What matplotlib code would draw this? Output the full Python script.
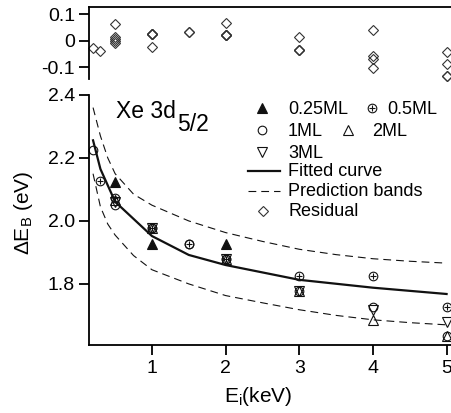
import numpy as np
import matplotlib
matplotlib.use("Agg")
import matplotlib.pyplot as plt

plt.rcParams.update({
    "font.family": ["Liberation Sans", "DejaVu Sans"],
    "mathtext.default": "regular",
    "axes.linewidth": 1.3,
    "xtick.major.width": 1.3,
    "ytick.major.width": 1.3,
    "xtick.major.size": 7,
    "ytick.major.size": 7,
    "xtick.labelsize": 14,
    "ytick.labelsize": 14,
})

# --- measured shifts (keV, eV) per coverage ---
e_025 = [0.5, 1, 2]
de_025 = [2.125, 1.926, 1.927]
e_05 = [0.3, 0.5, 1, 1.5, 2, 3, 4, 5]
de_05 = [2.127, 2.073, 1.977, 1.926, 1.880, 1.826, 1.826, 1.726]
e_1 = [0.2, 0.5, 1, 1.5, 2, 3, 4, 5]
de_1 = [2.226, 2.052, 1.977, 1.926, 1.880, 1.776, 1.728, 1.633]
e_2 = [0.5, 1, 2, 3, 4, 5]
de_2 = [2.066, 1.977, 1.880, 1.776, 1.684, 1.633]
e_3 = [0.5, 1, 2, 3, 4, 5]
de_3 = [2.060, 1.977, 1.880, 1.776, 1.718, 1.680]

# fitted curve, evaluated at the measured energies
fit_e = [0.2, 0.3, 0.5, 1, 1.5, 2, 3, 4, 5]
fit_de = [2.256, 2.165, 2.061, 1.952, 1.892, 1.860, 1.813, 1.788, 1.768]

# prediction bands
band_e = [0.2, 0.3, 0.4, 0.5, 0.75, 1, 1.5, 2, 2.5, 3, 3.5, 4, 4.5, 5]
band_hi = [2.360, 2.270, 2.200, 2.150, 2.085, 2.050, 2.000, 1.963, 1.935,
           1.910, 1.893, 1.880, 1.872, 1.866]
band_lo = [2.150, 2.045, 1.990, 1.955, 1.890, 1.845, 1.800, 1.763, 1.740,
           1.718, 1.700, 1.686, 1.677, 1.670]

W, H = 451, 413
fig = plt.figure(figsize=(W / 100, H / 100), dpi=100)


def fx(px):
    return px / W


def fy(py):
    return 1 - py / H


ax = fig.add_axes([fx(89), fy(345), fx(451 - 89), (345 - 95) / H])
axr = fig.add_axes([fx(89), fy(79), fx(451 - 89), (79 - 7) / H], sharex=ax)

k = "#111111"
ms_c = 6.2
ms_t = 6.8

# main panel
ax.plot(band_e, band_hi, color=k, lw=0.8, dashes=(7, 4.5))
ax.plot(band_e, band_lo, color=k, lw=0.8, dashes=(7, 4.5))
ax.plot(fit_e, fit_de, color=k, lw=1.6)

series = [
    (e_025, de_025, dict(marker="^", mfc=k, mec=k, ms=ms_t)),
    (e_05, de_05, dict(marker="o", mfc="none", mec=k, ms=ms_c)),
    (e_1, de_1, dict(marker="o", mfc="none", mec=k, ms=ms_c)),
    (e_2, de_2, dict(marker="^", mfc="none", mec=k, ms=ms_t)),
    (e_3, de_3, dict(marker="v", mfc="none", mec=k, ms=ms_t)),
]
for e, de, st in series:
    ax.plot(e, de, ls="none", mew=0.8, clip_on=False, **st)
# the plus inside the 0.5ML circles
ax.plot(e_05, de_05, ls="none", marker="+", color=k, ms=ms_c - 1.2, mew=0.8,
        clip_on=False)

ax.set_xlim(0.145, 5.06)
ax.set_ylim(1.606, 2.4)
ax.set_xticks([1, 2, 3, 4, 5])
ax.set_yticks([1.8, 2.0, 2.2, 2.4])
ax.set_yticklabels(["1.8", "2.0", "2.2", "2.4"])
ax.spines["top"].set_visible(False)
ax.spines["right"].set_visible(False)
ax.tick_params(axis="x", pad=4)
ax.tick_params(axis="y", pad=3)
ax.set_xlabel(r"$E_i$(keV)", fontsize=15)
ax.xaxis.set_label_coords(0.467, -0.16)
ax.set_ylabel(r"$\Delta E_B$ (eV)", fontsize=15)
ax.yaxis.set_label_coords(-0.15, 0.53)

# residual panel
for e, de, _ in series:
    res = np.array(de) - np.interp(e, fit_e, fit_de)
    axr.plot(e, res, ls="none", marker="D", mfc="none", mec="#333333",
             ms=4.6, mew=0.8, clip_on=False)
axr.set_ylim(-0.145, 0.1264)
axr.set_yticks([-0.1, 0, 0.1])
axr.set_yticklabels(["-0.1", "0", "0.1"])
axr.spines["bottom"].set_visible(False)
axr.spines["right"].set_visible(False)
axr.tick_params(axis="x", bottom=False, labelbottom=False)
axr.tick_params(axis="y", pad=3)

# panel label
fig.text(fx(115.5), fy(117.7), "Xe 3d", fontsize=16.5, va="baseline")
fig.text(fx(177), fy(131), "5/2", fontsize=16.5, va="baseline")

# key
tf = fig.transFigure


def key_marker(px, py, **kw):
    ax.plot([fx(px)], [fy(py)], transform=tf, clip_on=False, ls="none",
            mew=0.8, **kw)


def key_text(px, py, s):
    fig.text(fx(px), fy(py), s, fontsize=13, va="baseline")


key_marker(262, 108, marker="^", mfc=k, mec=k, ms=ms_t)
key_text(288, 113.5, "0.25ML")
key_marker(372, 108, marker="o", mfc="none", mec=k, ms=ms_c)
key_marker(372, 108, marker="+", color=k, ms=ms_c - 1.2)
key_text(387, 113.5, "0.5ML")
key_marker(262, 130, marker="o", mfc="none", mec=k, ms=ms_c)
key_text(288, 135.5, "1ML")
key_marker(348, 130, marker="^", mfc="none", mec=k, ms=ms_t)
key_text(372, 135.5, "2ML")
key_marker(262, 152, marker="v", mfc="none", mec=k, ms=ms_t)
key_text(288, 157.5, "3ML")
ax.plot([fx(248), fx(280)], [fy(171), fy(171)], transform=tf, clip_on=False,
        color=k, lw=1.6)
key_text(288, 176.5, "Fitted curve")
ax.plot([fx(248), fx(280)], [fy(191), fy(191)], transform=tf, clip_on=False,
        color=k, lw=0.8, dashes=(7, 4.5))
key_text(288, 196.5, "Prediction bands")
key_marker(263, 211, marker="D", mfc="none", mec="#333333", ms=4.6)
key_text(288, 216.5, "Residual")

fig.savefig("out.png", dpi=100)
